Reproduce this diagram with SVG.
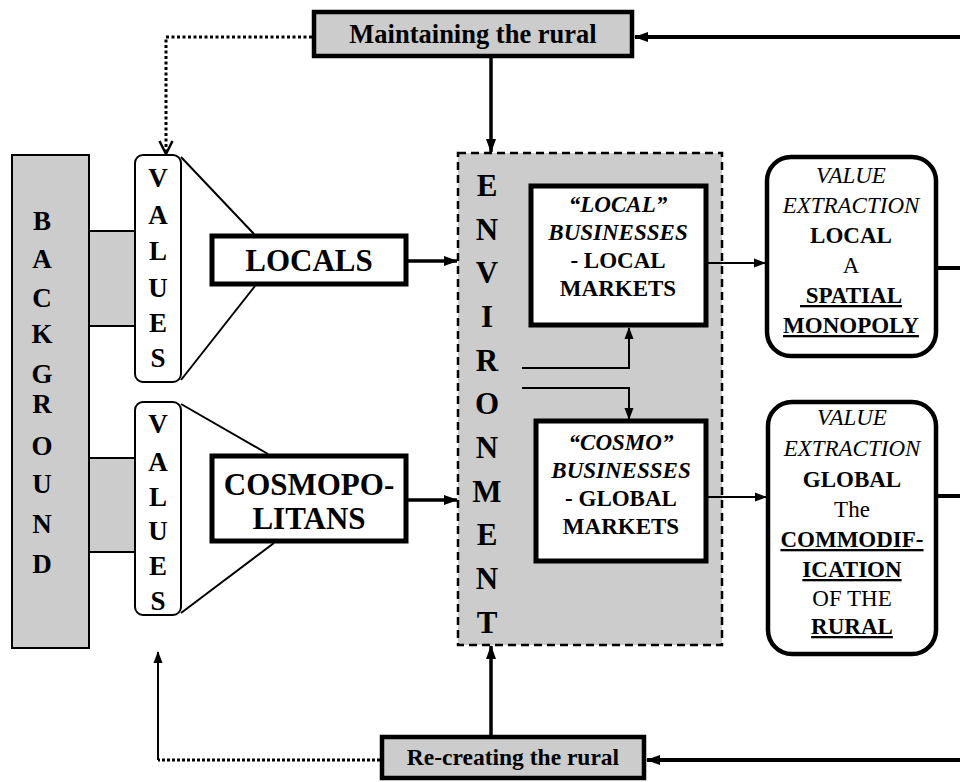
<svg xmlns="http://www.w3.org/2000/svg" width="960" height="782" viewBox="0 0 960 782">
<defs>
<style>
text{font-family:"Liberation Serif","Times New Roman",serif;fill:#000;text-anchor:middle}
.b{font-weight:bold}
.i{font-style:italic}
.u{text-decoration:underline}
.gray{fill:#cccccc;stroke:#000}
.ln{fill:none;stroke:#000}
</style>
<marker id="ah" markerUnits="userSpaceOnUse" markerWidth="14" markerHeight="10" refX="13" refY="5" orient="auto"><path d="M0,0 L14,5 L0,10 z" fill="#000"/></marker>
<marker id="ahs" markerUnits="userSpaceOnUse" markerWidth="12" markerHeight="10" refX="11" refY="5" orient="auto"><path d="M0,0.5 L12,5 L0,9.5 z" fill="#000"/></marker>
<marker id="open" markerUnits="userSpaceOnUse" markerWidth="16" markerHeight="16" refX="14" refY="8" orient="auto"><path d="M1,1.5 L14,8 L1,14.5" fill="none" stroke="#000" stroke-width="2.5"/></marker>
</defs>

<g id="background">
<rect x="12" y="155" width="77" height="493" class="gray" stroke-width="2"/>
<text class="b" font-size="27" x="42"><tspan y="230">B</tspan><tspan x="42" y="268">A</tspan><tspan x="42" y="307">C</tspan><tspan x="42" y="343">K</tspan><tspan x="42" y="383">G</tspan><tspan x="42" y="413">R</tspan><tspan x="42" y="455">O</tspan><tspan x="42" y="493">U</tspan><tspan x="42" y="533">N</tspan><tspan x="42" y="573">D</tspan></text>
</g>

<g id="bridge-locals"><rect x="89" y="231" width="46" height="95" class="gray" stroke-width="2"/></g>
<g id="bridge-cosmo"><rect x="89" y="458" width="46" height="94" class="gray" stroke-width="2"/></g>

<g id="values-locals">
<path d="M181,157 L254,234 M255,286 L181,380" class="ln" stroke-width="2"/>
<rect x="135" y="155" width="46" height="227" rx="8" fill="#fff" stroke="#000" stroke-width="2"/>
<text class="b" font-size="27" x="158"><tspan y="187">V</tspan><tspan x="158" y="224">A</tspan><tspan x="158" y="260">L</tspan><tspan x="158" y="297">U</tspan><tspan x="158" y="332">E</tspan><tspan x="158" y="367">S</tspan></text>
</g>

<g id="values-cosmo">
<path d="M181,404 L268,454 M274,543 L181,613" class="ln" stroke-width="2"/>
<rect x="135" y="402" width="46" height="213" rx="8" fill="#fff" stroke="#000" stroke-width="2"/>
<text class="b" font-size="27" x="158"><tspan y="433">V</tspan><tspan x="158" y="471">A</tspan><tspan x="158" y="506">L</tspan><tspan x="158" y="540">U</tspan><tspan x="158" y="575">E</tspan><tspan x="158" y="610">S</tspan></text>
</g>

<g id="locals">
<rect x="212" y="236" width="194" height="48" fill="#fff" stroke="#000" stroke-width="5"/>
<text class="b" font-size="31" x="309" y="271">LOCALS</text>
</g>

<g id="cosmopolitans">
<rect x="212" y="456" width="194" height="85" fill="#fff" stroke="#000" stroke-width="5"/>
<text class="b" font-size="31" x="309" y="495">COSMOPO-</text>
<text class="b" font-size="31" x="309" y="529">LITANS</text>
</g>

<g id="environment">
<rect x="458" y="153" width="264" height="492" fill="#cccccc" stroke="#000" stroke-width="2.5" stroke-dasharray="8,5"/>
<text class="b" font-size="31" x="487"><tspan y="196">E</tspan><tspan x="487" y="240">N</tspan><tspan x="487" y="283">V</tspan><tspan x="487" y="327">I</tspan><tspan x="487" y="371">R</tspan><tspan x="487" y="414">O</tspan><tspan x="487" y="458">N</tspan><tspan x="487" y="502">M</tspan><tspan x="487" y="545">E</tspan><tspan x="487" y="589">N</tspan><tspan x="487" y="633">T</tspan></text>
</g>

<g id="local-businesses">
<rect x="531" y="186" width="175" height="139" fill="#fff" stroke="#000" stroke-width="5"/>
<text font-size="23" x="618"><tspan class="b i" y="212">“LOCAL”</tspan><tspan class="b i" x="618" y="240">BUSINESSES</tspan><tspan class="b" x="618" y="268">- LOCAL</tspan><tspan class="b" x="618" y="296">MARKETS</tspan></text>
</g>

<g id="cosmo-businesses">
<rect x="536" y="421" width="170" height="140" fill="#fff" stroke="#000" stroke-width="5"/>
<text font-size="23" x="621"><tspan class="b i" y="450">“COSMO”</tspan><tspan class="b i" x="621" y="478">BUSINESSES</tspan><tspan class="b" x="621" y="506">- GLOBAL</tspan><tspan class="b" x="621" y="534">MARKETS</tspan></text>
</g>

<g id="value-local">
<rect x="767" y="157" width="169" height="199" rx="24" fill="#fff" stroke="#000" stroke-width="4.5"/>
<text font-size="23" x="851"><tspan class="i" y="183">VALUE</tspan><tspan class="i" x="851" y="213">EXTRACTION</tspan><tspan class="b" x="851" y="243">LOCAL</tspan><tspan x="851" y="273">A</tspan><tspan class="b u" x="851" y="303">&#160;SPATIAL</tspan><tspan class="b u" x="851" y="333">MONOPOLY</tspan></text>
</g>

<g id="value-global">
<rect x="768" y="402" width="168" height="252" rx="24" fill="#fff" stroke="#000" stroke-width="4.5"/>
<text font-size="23" x="852"><tspan class="i" y="425">VALUE</tspan><tspan class="i" x="852" y="456">EXTRACTION</tspan><tspan class="b" x="852" y="487">GLOBAL</tspan><tspan x="852" y="517">The</tspan><tspan class="b u" x="852" y="547">COMMODIF-</tspan><tspan class="b u" x="852" y="577">ICATION</tspan><tspan x="852" y="606">OF THE</tspan><tspan class="b u" x="852" y="634">RURAL</tspan></text>
</g>

<g id="maintaining">
<rect x="314" y="12" width="318" height="44" class="gray" stroke-width="4.5"/>
<text class="b" font-size="26.5" x="473" y="43">Maintaining the rural</text>
</g>

<g id="recreating">
<rect x="382" y="737" width="262" height="41" class="gray" stroke-width="4.5"/>
<text class="b" font-size="23.5" x="513" y="765">Re-creating the rural</text>
</g>

<g id="connectors">
<path d="M408,261 L457,261" class="ln" stroke-width="3.5" marker-end="url(#ah)"/>
<path d="M408,500 L457,500" class="ln" stroke-width="3.5" marker-end="url(#ah)"/>
<path d="M491,58 L491,152" class="ln" stroke-width="3.5" marker-end="url(#ah)"/>
<path d="M491,735 L491,646" class="ln" stroke-width="3.5" marker-end="url(#ah)"/>
<path d="M960,37 L635,37" class="ln" stroke-width="4" marker-end="url(#ah)"/>
<path d="M960,760 L647,760" class="ln" stroke-width="4" marker-end="url(#ah)"/>
<path d="M312,37 L166,37 L166,154" class="ln" stroke-width="3" stroke-dasharray="3,2.5" marker-end="url(#open)"/>
<path d="M380,760 L158,760" class="ln" stroke-width="3" stroke-dasharray="3,2"/>
<path d="M158,760 L158,652" class="ln" stroke-width="2" marker-end="url(#ahs)"/>
<path d="M522,368 L629,368 L629,328" class="ln" stroke-width="2" marker-end="url(#ahs)"/>
<path d="M522,388 L629,388 L629,419" class="ln" stroke-width="2" marker-end="url(#ahs)"/>
<path d="M708,263 L765,263" class="ln" stroke-width="2" marker-end="url(#ahs)"/>
<path d="M708,497 L766,497" class="ln" stroke-width="2" marker-end="url(#ahs)"/>
<path d="M938,268 L960,268" class="ln" stroke-width="4"/>
<path d="M938,496 L960,496" class="ln" stroke-width="4"/>
</g>
</svg>
